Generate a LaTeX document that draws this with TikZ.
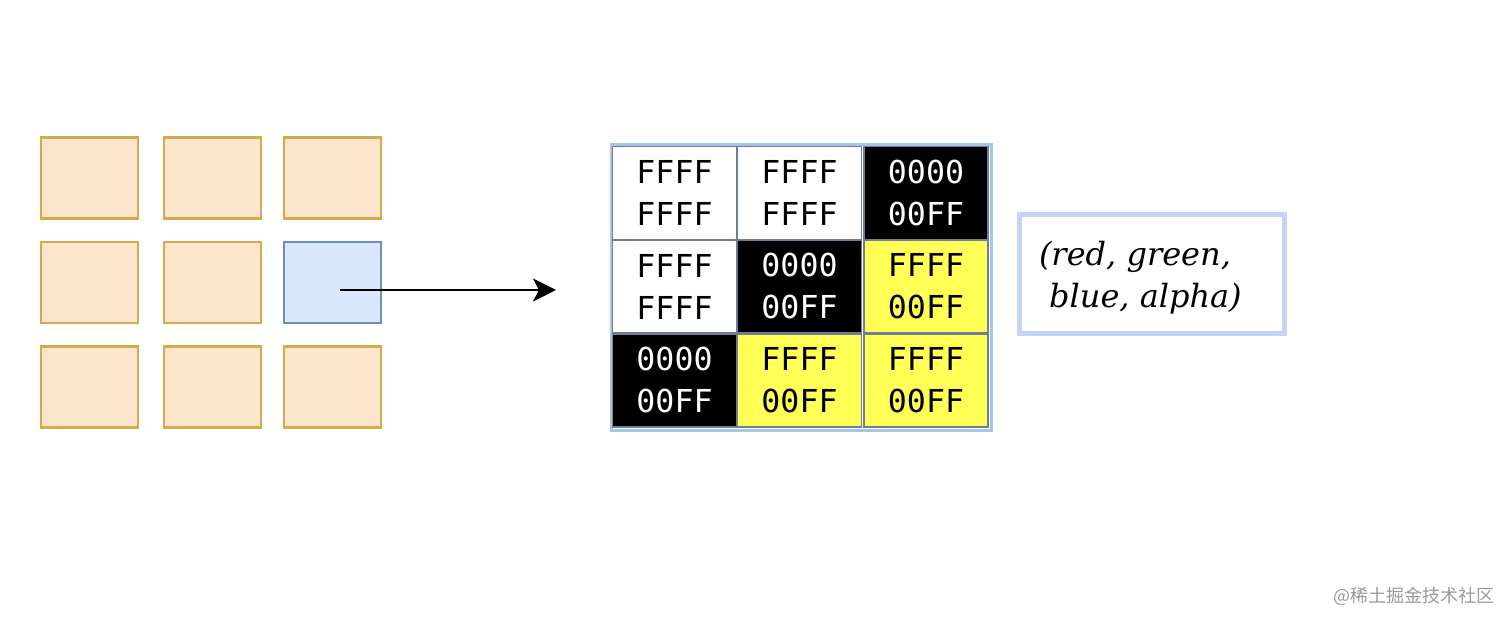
\documentclass[tikz,border=0pt]{standalone}
\usepackage{fontspec}
\usetikzlibrary{arrows.meta}
\newfontfamily\monof{DejaVu Sans Mono}
\newfontfamily\serifit{DejaVu Serif}
\newfontfamily\cjkf{Noto Sans CJK SC}
\definecolor{orfill}{HTML}{FCE5CD}
\definecolor{ordraw}{HTML}{D4AA4A}
\definecolor{blfill}{HTML}{DAE8FC}
\definecolor{bldraw}{HTML}{6C8EBF}
\definecolor{mxout}{HTML}{A9C4EB}
\definecolor{celldraw}{HTML}{6F7E96}
\definecolor{yel}{HTML}{FFFF55}
\definecolor{boxblue}{HTML}{C2D3F5}
\begin{document}
\begin{tikzpicture}[x=0.5pt,y=-0.5pt,
  pix/.style={inner sep=0pt, outer sep=0pt},
  orbox/.style={pix, draw=ordraw, fill=orfill, line width=1.25pt, minimum width=48.5pt, minimum height=40.5pt},
  blbox/.style={orbox, draw=bldraw, fill=blfill},
  cell/.style={pix, draw=celldraw, line width=0.8pt, minimum width=62pt, minimum height=46.5pt,
     font=\monof\fontsize{15.8}{21}\selectfont, align=center},
  wcell/.style={cell, fill=white, text=black},
  kcell/.style={cell, fill=black, text=white},
  ycell/.style={cell, fill=yel, text=black},
  legend/.style={pix, draw=boxblue, fill=white, line width=2.5pt, minimum width=132.5pt, minimum height=59.5pt},
  legtext/.style={pix, font=\serifit\itshape\fontsize{16}{21}\selectfont, align=left, anchor=west},
  arr/.style={-{Stealth[length=11.5pt,width=11.5pt,inset=3pt]}, line width=1pt, black},
  wm/.style={pix, font=\cjkf\fontsize{9}{10}\selectfont, text=black!40, anchor=west}
]
\useasboundingbox (0,0) rectangle (1512,624);
% left grid
\node[orbox] (a11) at (89.5,178) {};
\node[orbox] (a12) at (212.5,178) {};
\node[orbox] (a13) at (332.5,178) {};
\node[orbox] (a21) at (89.5,282.5) {};
\node[orbox] (a22) at (212.5,282.5) {};
\node[blbox] (a23) at (332.5,282.5) {};
\node[orbox] (a31) at (89.5,387) {};
\node[orbox] (a32) at (212.5,387) {};
\node[orbox] (a33) at (332.5,387) {};
% matrix
\node[pix, draw=mxout, line width=1.5pt, minimum width=190pt, minimum height=143pt] (mx) at (801,288) {};
\node[wcell] (m11) at (674.5,193) {FFFF\\FFFF};
\node[wcell] (m12) at (799.5,193) {FFFF\\FFFF};
\node[kcell] (m13) at (926,193) {0000\\00FF};
\node[wcell] (m21) at (674.5,286.5) {FFFF\\FFFF};
\node[kcell] (m22) at (799.5,286.5) {0000\\00FF};
\node[ycell] (m23) at (926,286.5) {FFFF\\00FF};
\node[kcell] (m31) at (674.5,380.5) {0000\\00FF};
\node[ycell] (m32) at (799.5,380.5) {FFFF\\00FF};
\node[ycell] (m33) at (926,380.5) {FFFF\\00FF};
% arrow
\coordinate (s) at (340,290);
\coordinate (e) at (556,290);
\draw[arr] (s) -- (e);
% legend
\node[legend] (leg) at (1152,274) {};
\node[legtext] (legt) at (1039,278) {(red, green,\\\ blue, alpha)};
% watermark
\node[wm] (wmk) at (1333,596) {@稀土掘金技术社区};
\end{tikzpicture}
\end{document}
